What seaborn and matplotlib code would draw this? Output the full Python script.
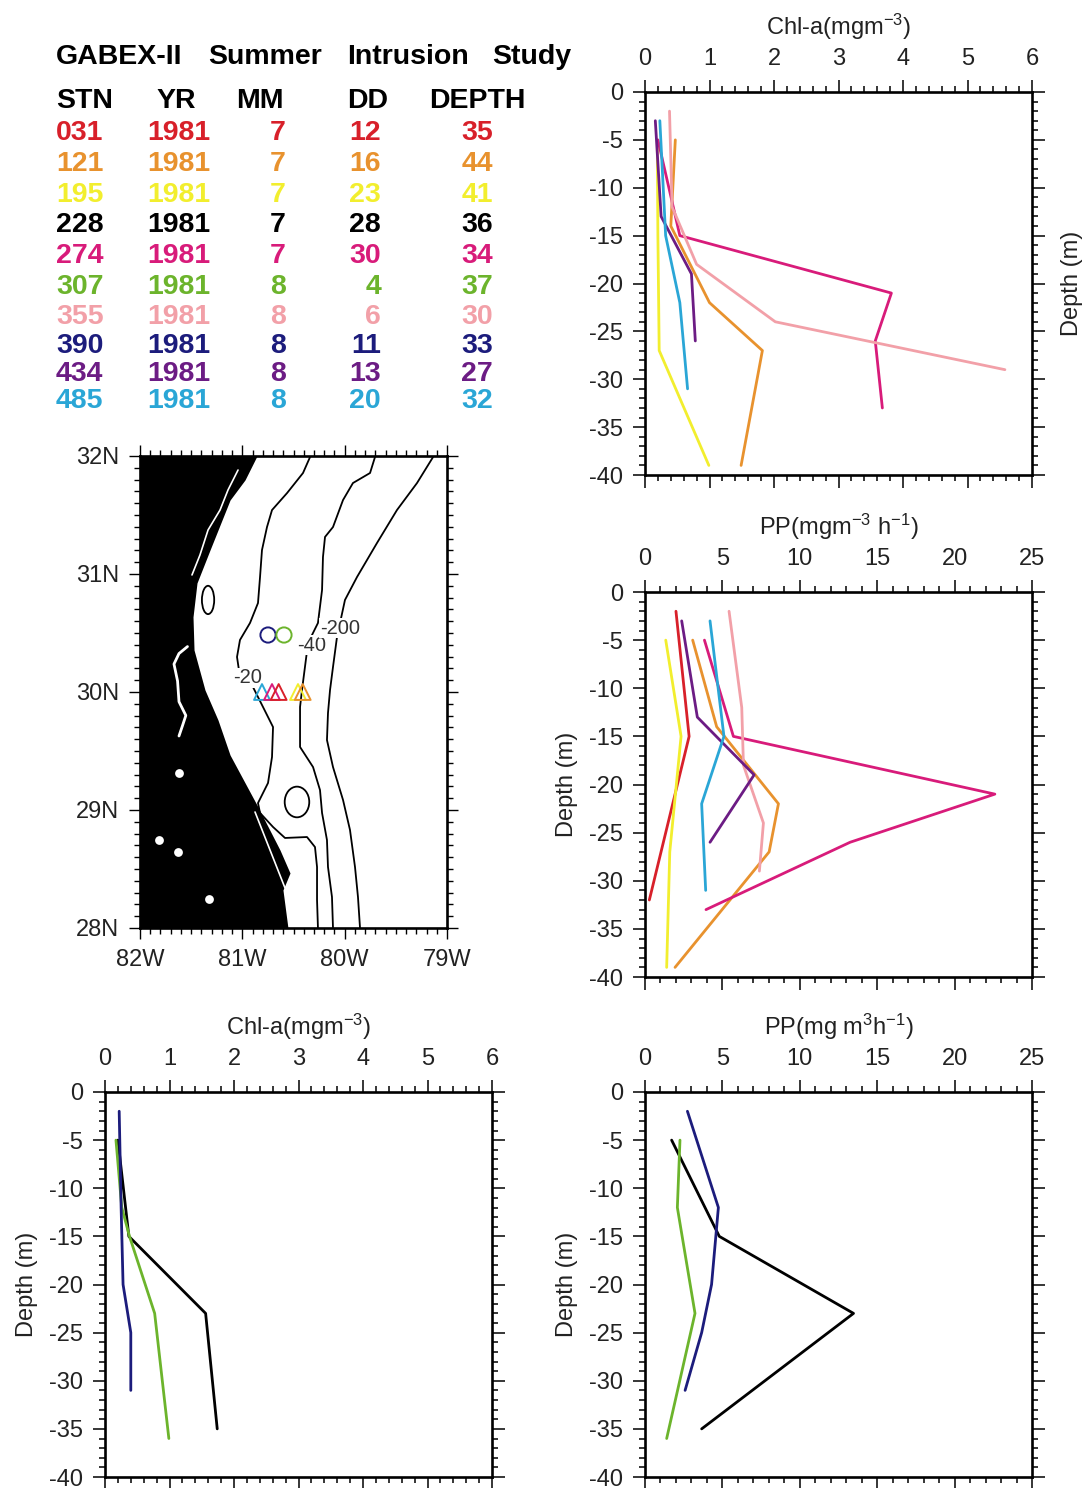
import numpy as np
import pandas as pd
import seaborn as sns
import matplotlib.pyplot as plt
from matplotlib.ticker import MultipleLocator
from matplotlib.patches import Ellipse

# station table
stations = ['031', '121', '195', '228', '274', '307', '355', '390', '434', '485']
years = [1981, 1981, 1981, 1981, 1981, 1981, 1981, 1981, 1981, 1981]
months = [7, 7, 7, 7, 7, 8, 8, 8, 8, 8]
days = [12, 16, 23, 28, 30, 4, 6, 11, 13, 20]
bottom_depth = [35, 44, 41, 36, 34, 37, 30, 33, 27, 32]
stn_colors = ['#d8202a', '#e8922e', '#f2ee2e', '#000000', '#d81b7a',
              '#6cb42c', '#f2a0a8', '#1c1c7c', '#6c1c84', '#2aa6d6']
palette = dict(zip(stations, stn_colors))

# profiles: sample depth (m), chl-a (mg m-3), PP (mg m-3 h-1)
depth_031 = [-2, -15, -32]
pp_031 = [2.0, 2.85, 0.28]
depth_121 = [-5, -14, -22, -27, -39]
chl_121 = [0.47, 0.40, 1.0, 1.82, 1.49]
pp_121 = [3.08, 4.63, 8.62, 8.02, 1.94]
depth_195 = [-5, -15, -27, -39]
chl_195 = [0.19, 0.2, 0.22, 0.99]
pp_195 = [1.34, 2.33, 1.6, 1.4]
depth_274 = [-5, -15, -21, -26, -33]
chl_274 = [0.2, 0.54, 3.82, 3.57, 3.68]
pp_274 = [3.84, 5.71, 22.6, 13.25, 3.94]
depth_355 = [-2, -12, -18, -24, -29]
chl_355 = [0.38, 0.42, 0.8, 2.02, 5.58]
pp_355 = [5.43, 6.25, 6.36, 7.65, 7.39]
depth_434 = [-3, -13, -19, -26]
chl_434 = [0.16, 0.25, 0.72, 0.78]
pp_434 = [2.37, 3.38, 7.05, 4.2]
depth_485 = [-3, -15, -22, -31]
chl_485 = [0.23, 0.32, 0.54, 0.66]
pp_485 = [4.2, 5.1, 3.66, 3.92]

depth_228 = [-5, -15, -23, -35]
chl_228 = [0.2, 0.37, 1.56, 1.74]
pp_228 = [1.72, 4.8, 13.47, 3.66]
depth_307 = [-5, -12, -15, -23, -36]
chl_307 = [0.17, 0.26, 0.38, 0.77, 0.99]
pp_307 = [2.26, 2.09, 2.4, 3.23, 1.4]
depth_390 = [-2, -12, -20, -25, -31]
chl_390 = [0.22, 0.25, 0.28, 0.40, 0.40]
pp_390 = [2.74, 4.74, 4.3, 3.66, 2.59]

# map: coastline (land to the west), isobaths, station positions
coast_lon = [-80.857, -80.974, -81.120, -81.316, -81.443, -81.482, -81.472, -81.365,
             -81.238, -81.120, -80.857, -80.632, -80.534, -80.603, -80.554]
coast_lat = [32.0, 31.797, 31.627, 31.203, 30.924, 30.636, 30.356, 30.017,
             29.763, 29.466, 29.042, 28.661, 28.466, 28.322, 28.0]
iso20_lon = [-80.339, -80.407, -80.563, -80.710, -80.759, -80.808, -80.827, -80.847, -80.925,
             -81.023, -81.052, -81.023, -80.896, -80.798, -80.700, -80.710, -80.749, -80.847,
             -80.827, -80.700, -80.583, -80.368, -80.290, -80.270, -80.270, -80.261]
iso20_lat = [31.99, 31.856, 31.686, 31.542, 31.398, 31.203, 30.975, 30.754, 30.585,
             30.441, 30.297, 30.127, 30.042, 29.873, 29.703, 29.449, 29.229, 29.059,
             28.975, 28.856, 28.763, 28.771, 28.686, 28.517, 28.237, 28.0]
iso40_lon = [-79.704, -79.752, -79.919, -80.016, -80.114, -80.192, -80.212, -80.221, -80.261,
             -80.358, -80.388, -80.417, -80.436, -80.436, -80.309, -80.241, -80.221, -80.173,
             -80.163, -80.124, -80.114]
iso40_lat = [31.99, 31.856, 31.771, 31.627, 31.398, 31.314, 31.144, 30.864, 30.585,
             30.415, 30.212, 30.017, 29.873, 29.534, 29.364, 29.169, 28.975, 28.746,
             28.517, 28.263, 28.0]
iso200_lon = [-79.137, -79.293, -79.489, -79.684, -79.879, -79.997, -80.075, -80.114, -80.143,
              -80.163, -80.173, -80.114, -80.016, -79.948, -79.899, -79.870, -79.850]
iso200_lat = [31.99, 31.771, 31.542, 31.263, 30.975, 30.780, 30.466, 30.212, 30.017,
              29.822, 29.593, 29.364, 29.085, 28.831, 28.517, 28.263, 28.0]
loop_lon = [-81.335, -80.466]
loop_lat = [30.78, 29.068]
loop_w = [0.12, 0.24]
loop_h = [0.24, 0.26]
river_lon = [-81.536, -81.619, -81.668, -81.633, -81.619, -81.552, -81.585, -81.619]
river_lat = [30.385, 30.326, 30.237, 30.093, 29.918, 29.801, 29.714, 29.627]
marsh_lon = [-81.042, -81.140, -81.218, -81.335, -81.414, -81.492]
marsh_lat = [31.881, 31.712, 31.542, 31.373, 31.161, 30.992]
lagoon_lon = [-80.876, -80.583]
lagoon_lat = [28.983, 28.339]
lake_lon = [-81.62, -81.63, -81.33, -81.81]
lake_lat = [29.31, 28.64, 28.25, 28.75]
circle_stn = ['390', '307']
circle_lon = [-80.749, -80.593]
circle_lat = [30.483, 30.483]
tri_stn = ['485', '274', '031', '195', '121']
tri_lon = [-80.808, -80.71, -80.645, -80.456, -80.41]
tri_lat = [30.0, 30.0, 30.0, 30.0, 30.0]
iso_names = ['-20', '-40', '-200']
iso_label_lon = [-80.945, -80.319, -80.046]
iso_label_lat = [30.119, 30.398, 30.542]


def profile_frame(names, depths, values, col):
    rows = []
    for n, d, v in zip(names, depths, values):
        for dd, vv in zip(d, v):
            rows.append({'stn': n, 'depth': dd, col: vv})
    return pd.DataFrame(rows)


chl_upper = profile_frame(['121', '195', '274', '355', '434', '485'],
                          [depth_121, depth_195, depth_274, depth_355, depth_434, depth_485],
                          [chl_121, chl_195, chl_274, chl_355, chl_434, chl_485], 'chl')
pp_upper = profile_frame(['031', '121', '195', '274', '355', '434', '485'],
                         [depth_031, depth_121, depth_195, depth_274, depth_355, depth_434, depth_485],
                         [pp_031, pp_121, pp_195, pp_274, pp_355, pp_434, pp_485], 'pp')
chl_lower = profile_frame(['228', '307', '390'], [depth_228, depth_307, depth_390],
                          [chl_228, chl_307, chl_390], 'chl')
pp_lower = profile_frame(['228', '307', '390'], [depth_228, depth_307, depth_390],
                         [pp_228, pp_307, pp_390], 'pp')

sns.set_theme(style='ticks')
plt.rcParams['font.family'] = ['Liberation Sans', 'DejaVu Sans']
plt.rcParams['axes.unicode_minus'] = False
plt.rcParams['mathtext.fontset'] = 'custom'
plt.rcParams['mathtext.rm'] = 'Liberation Sans'
plt.rcParams['mathtext.it'] = 'Liberation Sans'
plt.rcParams['mathtext.default'] = 'regular'

W, H = 1083, 1488
fig = plt.figure(figsize=(W / 100, H / 100), dpi=100)


def box(l, t, r, b):
    return [l / W, 1 - b / H, (r - l) / W, (b - t) / H]


txt = '#222222'


def style_profile(ax, xmax, major, minor, xlabel, ylabel_side):
    ax.set_xlim(0, xmax)
    ax.set_ylim(-40, 0)
    ax.xaxis.set_major_locator(MultipleLocator(major))
    ax.xaxis.set_minor_locator(MultipleLocator(minor))
    ax.yaxis.set_major_locator(MultipleLocator(5))
    ax.yaxis.set_minor_locator(MultipleLocator(1))
    ax.tick_params(which='both', direction='out', top=True, bottom=True, left=True, right=True,
                   labeltop=True, labelbottom=False, labelleft=True, labelright=False,
                   width=1.1, color='black', labelcolor=txt)
    ax.tick_params(which='major', length=9, pad=7, labelsize=17)
    ax.tick_params(which='minor', length=4.5)
    ax.xaxis.set_label_position('top')
    ax.set_xlabel(xlabel, fontsize=17, color=txt, labelpad=9)
    if ylabel_side == 'right':
        ax.yaxis.set_label_position('right')
        ax.set_ylabel('Depth (m)', fontsize=17, color=txt, labelpad=12)
    else:
        ax.set_ylabel('Depth (m)', fontsize=17, color=txt, labelpad=8)
    for sp in ax.spines.values():
        sp.set_visible(True)
        sp.set_linewidth(1.9)
        sp.set_color('black')
    ax.grid(False)


chl_lab = 'Chl-a(mgm$^{-3}$)'

ax1 = fig.add_axes(box(645, 92, 1032, 475))
sns.lineplot(data=chl_upper, x='chl', y='depth', hue='stn', palette=palette, sort=False,
             estimator=None, legend=False, lw=2.0, ax=ax1)
style_profile(ax1, 6, 1, 0.2, chl_lab, 'right')

ax2 = fig.add_axes(box(645, 592, 1032, 977))
sns.lineplot(data=pp_upper, x='pp', y='depth', hue='stn', palette=palette, sort=False,
             estimator=None, legend=False, lw=2.0, ax=ax2)
style_profile(ax2, 25, 5, 1, 'PP(mgm$^{-3}$ h$^{-1}$)', 'left')

ax3 = fig.add_axes(box(105, 1092, 492, 1477))
sns.lineplot(data=chl_lower, x='chl', y='depth', hue='stn', palette=palette, sort=False,
             estimator=None, legend=False, lw=2.0, ax=ax3)
style_profile(ax3, 6, 1, 0.2, chl_lab, 'left')

ax4 = fig.add_axes(box(645, 1092, 1032, 1477))
sns.lineplot(data=pp_lower, x='pp', y='depth', hue='stn', palette=palette, sort=False,
             estimator=None, legend=False, lw=2.0, ax=ax4)
style_profile(ax4, 25, 5, 1, 'PP(mg m$^3$h$^{-1}$)', 'left')

# map
axm = fig.add_axes(box(140, 456, 447, 928))
axm.fill_betweenx(coast_lat, -82, coast_lon, color='black', lw=0)
axm.plot(river_lon, river_lat, color='white', lw=2)
axm.plot(marsh_lon, marsh_lat, color='white', lw=1.2)
axm.plot(lagoon_lon, lagoon_lat, color='white', lw=1.2)
sns.scatterplot(x=lake_lon, y=lake_lat, color='white', s=40, lw=0, marker='o', ax=axm)
for lon, lat in [(iso20_lon, iso20_lat), (iso40_lon, iso40_lat), (iso200_lon, iso200_lat)]:
    axm.plot(lon, lat, color='black', lw=1.3)
for x, y, w, h in zip(loop_lon, loop_lat, loop_w, loop_h):
    axm.add_patch(Ellipse((x, y), w, h, fill=False, ec='black', lw=1.3))
for name, x, y in zip(iso_names, iso_label_lon, iso_label_lat):
    axm.text(x, y, name, fontsize=14.5, color='#333333', ha='center', va='center',
             bbox=dict(fc='white', ec='none', pad=0.5))
axm.scatter(circle_lon, circle_lat, s=120, facecolors='none',
            edgecolors=[palette[s] for s in circle_stn], linewidths=1.4, zorder=5)
axm.scatter(tri_lon, tri_lat, s=130, marker='^', facecolors='none',
            edgecolors=[palette[s] for s in tri_stn], linewidths=1.4, zorder=5)
axm.set_xlim(-82, -79)
axm.set_ylim(28, 32)
axm.set_xticks([-82, -81, -80, -79])
axm.set_xticklabels(['82W', '81W', '80W', '79W'])
axm.set_yticks([28, 29, 30, 31, 32])
axm.set_yticklabels(['28N', '29N', '30N', '31N', '32N'])
axm.xaxis.set_minor_locator(MultipleLocator(0.1))
axm.yaxis.set_minor_locator(MultipleLocator(0.1))
axm.tick_params(which='both', direction='out', top=True, right=True, bottom=True, left=True,
                width=1.0, color='black', labelcolor=txt)
axm.tick_params(which='major', length=8, pad=7, labelsize=17)
axm.tick_params(which='minor', length=4)
axm.set_xlabel('')
axm.set_ylabel('')
for sp in axm.spines.values():
    sp.set_linewidth(1.9)
    sp.set_color('black')

# station table
tkw = dict(fontsize=20.5, fontweight='bold', va='center')
for word, x in zip(['GABEX-II', 'Summer', 'Intrusion', 'Study'], [56, 208, 347, 492]):
    fig.text(x / W, 1 - 57 / H, word, color='black', ha='left', **tkw)
for word, x in zip(['STN', 'YR', 'MM', 'DD', 'DEPTH'], [56, 156, 236, 347, 429]):
    fig.text(x / W, 1 - 101 / H, word, color='black', ha='left', **tkw)
row_y = [133, 164, 195, 225, 256, 287, 317, 346, 374, 401]
for i in range(len(stations)):
    y = 1 - row_y[i] / H
    c = stn_colors[i]
    fig.text(56 / W, y, stations[i], color=c, ha='left', **tkw)
    fig.text(147 / W, y, str(years[i]), color=c, ha='left', **tkw)
    fig.text(286 / W, y, str(months[i]), color=c, ha='right', **tkw)
    fig.text(381 / W, y, str(days[i]), color=c, ha='right', **tkw)
    fig.text(493 / W, y, str(bottom_depth[i]), color=c, ha='right', **tkw)

fig.savefig('out.png', dpi=100)
